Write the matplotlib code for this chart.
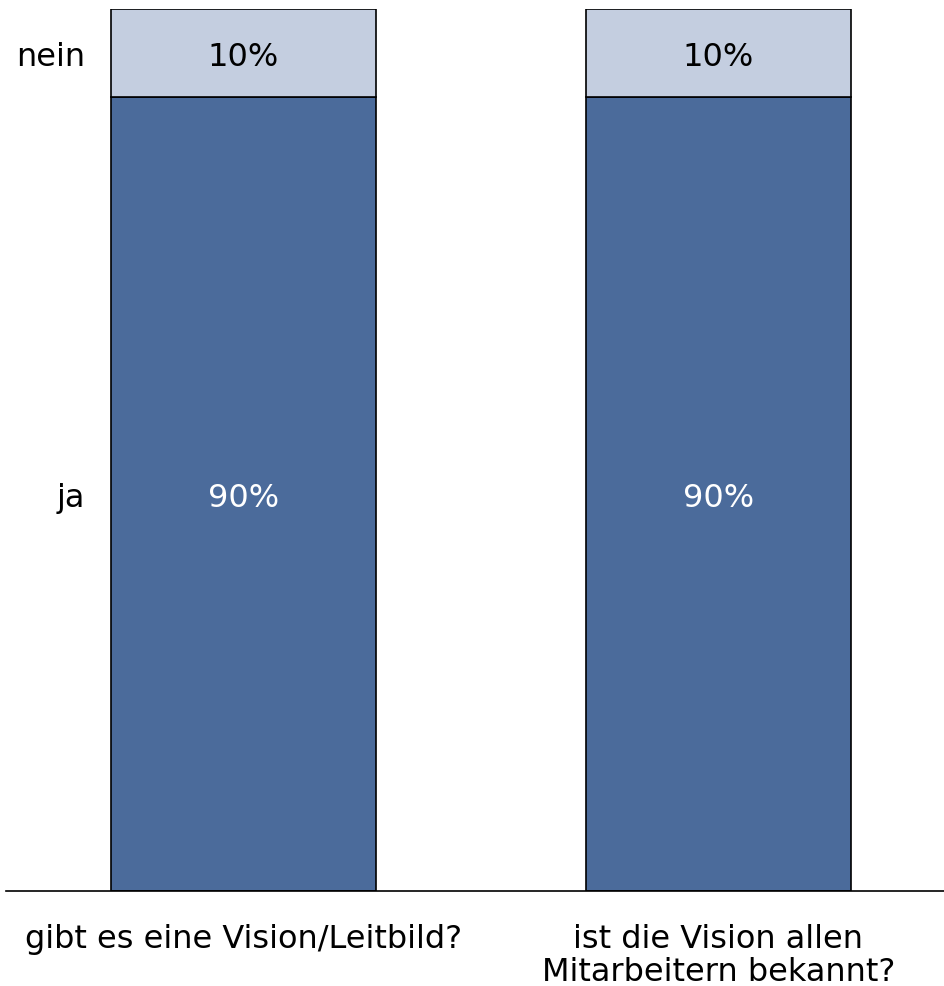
import matplotlib
matplotlib.use("Agg")
import matplotlib.pyplot as plt

# data
questions = ["gibt es eine Vision/Leitbild?", "ist die Vision allen\nMitarbeitern bekannt?"]
answers = ["ja", "nein"]
ja_share = [90, 90]
nein_share = [10, 10]

DARK = "#4b6b9b"
LIGHT = "#c4cee0"
FS = 23

plt.rcParams["font.family"] = ["DejaVu Sans"]

fig = plt.figure(figsize=(9.44, 9.87), dpi=100, facecolor="white")
ax = fig.add_axes([6 / 944, 95 / 987, 938 / 944, 882 / 987])

x = range(len(questions))
w = 0.558
ax.bar(x, ja_share, width=w, color=DARK, edgecolor="black", linewidth=1.2)
ax.bar(x, nein_share, width=w, bottom=ja_share, color=LIGHT,
       edgecolor="black", linewidth=1.2)

for i in x:
    ax.text(i, ja_share[i] / 2, f"{ja_share[i]}%", ha="center",
            va="center_baseline", fontsize=FS, color="white")
    ax.text(i, ja_share[i] + nein_share[i] / 2, f"{nein_share[i]}%", ha="center",
            va="center_baseline", fontsize=FS, color="black")

# series labels left of the first bar
ax.text(-w / 2 - 0.055, ja_share[0] / 2, answers[0], ha="right",
        va="center_baseline", fontsize=FS)
ax.text(-w / 2 - 0.055, ja_share[0] + nein_share[0] / 2, answers[1], ha="right",
        va="center_baseline", fontsize=FS)

ax.set_xlim(-0.5, 1.475)
ax.set_ylim(0, 100)
ax.set_xticks(list(x))
ax.set_xticklabels(questions, fontsize=FS, linespacing=1.08)
ax.tick_params(axis="x", length=0, pad=23)
ax.set_yticks([])
for side in ["top", "right", "left"]:
    ax.spines[side].set_visible(False)
ax.spines["bottom"].set_linewidth(1.2)

fig.savefig("out.png", dpi=100, facecolor="white")
